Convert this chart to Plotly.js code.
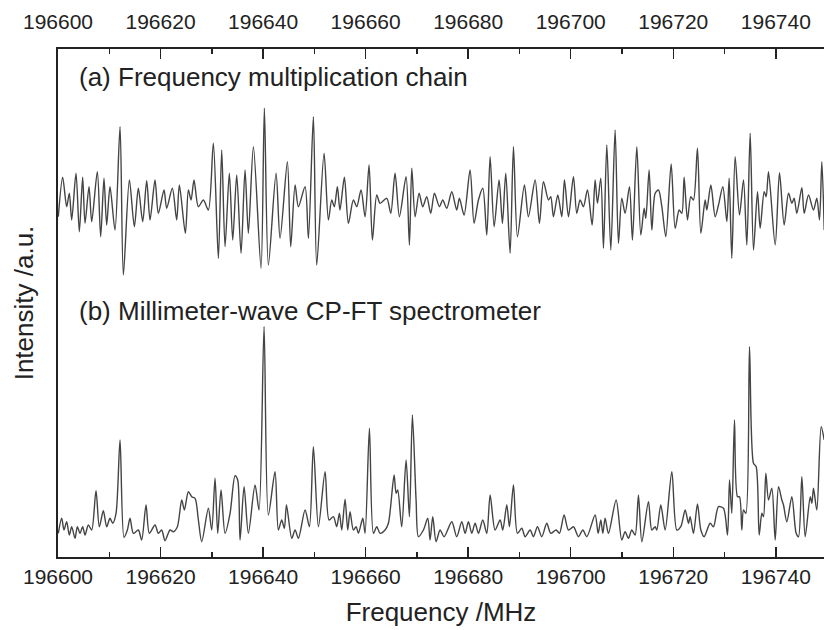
<!DOCTYPE html>
<html>
<head>
<meta charset="utf-8">
<script src="https://cdn.plot.ly/plotly-3.0.1.min.js"></script>
<style>html,body{margin:0;padding:0;background:#fff;overflow:hidden;}#chart{width:824px;height:630px;}</style>
</head>
<body>
<div id="chart"></div>
<script>
// Frequencies are given in MHz above baseFreq
const baseFreq = 196600;

// (a) Frequency multiplication chain: frequency offsets (MHz) and intensities (a.u.)
const freqA = [0.06,0.91,1.69,2.21,2.67,3.51,4.16,4.81,5.27,6.05,6.57,7.67,8.32,8.97,9.49,10.14,11.12,12.10,12.75,13.92,14.89,15.67,16.52,17.30,17.95,18.92,19.57,20.68,21.20,22.30,23.15,23.67,24.84,25.43,25.95,26.53,27.38,28.35,29.33,30.30,31.28,31.93,32.58,33.42,34.08,34.86,35.70,36.48,37.13,38.11,39.60,40.25,41.03,42.53,43.31,44.74,45.39,46.24,46.89,48.19,48.84,49.81,50.46,51.89,52.74,53.39,53.90,54.49,54.99,55.86,56.64,57.61,58.27,59.11,59.89,60.67,61.32,62.17,62.82,64.12,64.90,65.74,66.59,67.89,68.54,69.00,69.65,70.43,71.14,71.92,72.70,73.42,74.39,75.04,75.82,76.80,77.77,78.29,79.20,80.37,81.15,82.00,82.85,83.63,84.28,85.06,86.03,86.68,87.33,88.18,88.83,89.61,90.97,91.75,93.06,93.90,94.68,95.66,96.11,96.63,97.48,98.26,98.78,99.56,100.53,101.18,101.83,102.48,103.27,104.18,104.76,105.22,105.87,106.39,107.04,107.82,108.66,109.31,109.96,110.61,111.46,112.04,112.89,113.67,114.32,114.65,115.29,115.82,116.47,117.12,117.77,118.55,119.59,120.37,121.15,121.67,122.12,122.77,123.42,123.94,124.72,125.38,126.22,126.55,127.33,128.17,128.82,129.67,130.45,130.90,131.42,132.07,132.92,133.70,134.35,135.00,135.65,136.43,136.95,137.73,138.12,138.58,139.88,140.72,141.63,142.48,143.13,143.58,144.10,145.08,145.53,146.38,147.35,148.00,148.52,148.98,149.44];
const intensityA = [-13.7,25.7,-3.7,9.7,-17,29.7,-28.7,25.7,-20.3,16.3,-18.7,31.3,-33.7,24.7,-22,16.3,-27,76.3,-72,23,-23.7,14.7,-18.7,22.3,-17,23,-10.3,13,-5.3,14.7,-17,18,-30.3,13,3,23,-3.7,3,-7,59.7,-55.3,53,-43.7,29.7,-37,28,-50.3,33,-30.3,56.3,-65.3,94.7,-62,29.7,-35.3,41.3,-43.7,18,-3.7,16.3,-35.3,86.3,-62,49.7,-17,3,-3.7,16.3,-7,25.7,-20.3,3,-3.7,13,-13.7,38,-37,8,-0.3,4.7,-10.3,29.7,-13.7,26.3,-42,34.7,-13.7,9.7,-3.7,6.3,-10.3,9.7,-3.7,3,-5.3,11.3,-7,4.7,-12,33,-20.3,3,14.7,-32,46.3,-23.7,23,-20.3,29.7,-50.3,56.3,-33.7,18,-13.7,23,-20.3,21.3,3,6.3,-13.7,8,-13.7,23,-13.7,26.3,-10.3,3,-3.7,13,-22,23,-0.3,24.7,-45.3,58,-47,73,-40.3,4.7,-10.3,16.3,-37,56.3,-32,-5.3,-15.3,33,-27,9.7,13,-3.7,-33.7,39,-25.3,-7,-10.3,25.7,-17,6.3,3,54.7,-30.3,3,-7,18,-13.7,-2,16.3,-18.7,24.7,-55.3,46.3,-12,23,-42,69.7,-47,11.3,-25.3,11.3,6.3,31.3,-42,30.3,-22,9.7,-0.3,4.7,-10.3,15.3,-10.3,8,-7,4.7,-17,41.3,-27];

// (b) Millimeter-wave CP-FT spectrometer: frequency offsets (MHz) and intensities (a.u.)
const freqB = [0.06,0.72,1.17,1.69,2.21,2.67,3.32,3.77,4.29,4.81,5.27,5.92,6.57,7.41,8.06,8.84,9.49,10.14,10.67,11.32,12.10,12.88,13.53,14.05,14.70,15.67,16.32,17.17,17.82,18.92,19.57,20.22,20.87,21.85,22.50,23.28,24.13,24.65,25.43,26.08,26.73,27.38,28.03,29.33,29.98,30.63,31.15,31.80,32.58,33.56,34.53,35.05,35.51,36.29,37.13,38.43,39.21,40.19,41.03,42.33,42.98,43.63,44.15,44.56,45.59,46.24,46.89,48.19,49.03,49.81,50.79,52.09,52.87,53.71,54.36,54.88,55.34,55.99,56.51,56.96,57.61,58.14,58.59,59.44,59.89,60.74,61.52,62.17,62.82,63.79,64.44,65.55,65.94,66.26,67.04,67.89,68.54,69.12,69.84,70.30,71.27,72.12,72.57,73.09,73.74,74.52,75.30,76.80,77.77,78.75,79.40,80.05,80.70,81.35,82.00,82.85,83.63,84.28,85.25,86.23,86.75,87.53,88.05,88.83,89.61,90.45,91.11,92.08,92.73,93.51,94.36,95.33,96.11,97.15,97.80,98.71,99.56,100.53,101.51,102.36,103.14,104.76,105.35,105.87,106.26,106.71,107.36,108.86,109.96,110.61,111.26,111.91,112.56,113.21,113.87,115.16,115.82,116.47,116.79,117.57,118.42,119.72,120.69,121.47,122.32,122.97,123.29,123.94,124.72,125.38,126.02,127.19,127.84,128.82,129.80,130.58,130.97,131.42,131.94,132.53,132.92,133.37,133.70,134.16,134.87,135.65,136.17,136.76,137.28,137.60,138.06,138.58,139.23,139.88,140.53,141.18,141.50,142.15,143.13,143.97,144.43,145.08,145.73,146.71,147.03,147.35,148.00,148.85,149.44];
const intensityB = [-3.3,11.7,0,8.3,-5,3.3,-8.3,3.3,-3.3,3.3,-5,5,0,39.3,3.3,19.3,3.3,11.7,6.7,16.7,90,-7.3,0,11.7,-3.3,0,-10,25,-3.3,5,-3.3,0,-10.7,0,-1.7,3.3,30,20,38.3,33.3,31.7,10,-11.7,21.7,0,51.7,-3.3,40,-3.3,16.7,54.3,50,-10,43.3,-3.3,45,20,203.3,15,58.3,0,10,1.7,25,-8.3,0,-8.3,20,3.3,83.3,3.3,58.3,10,13.3,3.3,16.7,0,30.7,0,18.3,0,3.3,-3.3,11.7,-3.3,101.7,-3.3,3.3,-3.3,0,6.7,55,36.7,40,3.3,70,13.3,115,30,-6.7,0,11.7,-10,13.3,-11.7,0,-6.7,8.3,-6.7,8.3,-3.3,8.3,-3.3,6.7,-3.3,10,-3.3,35,0,10,0,25,3.3,45,-3.3,1.7,-6.7,0,-6.7,3.3,-6.7,6.7,-3.3,0,-3.3,15,0,3.3,-6.7,0,-6.7,15,-3.3,10,-3.3,11.7,-3.3,30,-10,-1.7,-8.3,0,-5,35,-11.7,28.3,0,3.3,0,25,0,58.3,0,3.3,20,6.7,13.3,-3.3,26,0,-6.7,6.7,3.3,23.3,21.7,-5,50,16.7,110,33.3,33.3,0,20,16.7,183.3,66.7,63.3,-5,16.7,13.3,56.7,30,41.7,-10,43.3,30,25,8.3,33.3,-3.3,-6.7,53.3,-6.7,33.3,26.7,41.7,20,103.3,90];

const tickValues = [196600,196620,196640,196660,196680,196700,196720,196740];
const panelLabels = ['(a) Frequency multiplication chain', '(b) Millimeter-wave CP-FT spectrometer'];

// vertical stacking offsets (display only)
const offsetA = 354, offsetB = 27;

const lineStyle = {color: '#444444', width: 1.4, shape: 'spline', smoothing: 0.8};
const traces = [
  {x: freqA.map(d => baseFreq + d), y: intensityA.map(v => v + offsetA), mode: 'lines', line: lineStyle, hoverinfo: 'skip', showlegend: false},
  {x: freqB.map(d => baseFreq + d), y: intensityB.map(v => v + offsetB), mode: 'lines', line: lineStyle, hoverinfo: 'skip', showlegend: false},
  {x: [196600], y: [0], xaxis: 'x2', mode: 'markers', marker: {opacity: 0}, hoverinfo: 'skip', showlegend: false}
];

const font = 'Liberation Sans, Arial, sans-serif';
const xRange = [196600, 196749.4];

const layout = {
  width: 824, height: 630,
  margin: {l: 58, r: 0, t: 49, b: 73},
  paper_bgcolor: '#fff', plot_bgcolor: '#fff',
  font: {family: font, color: '#222'},
  xaxis: {
    range: xRange, tickvals: tickValues, tickformat: 'd', side: 'bottom',
    ticks: 'inside', ticklen: 10, tickwidth: 1.5, tickcolor: '#222',
    showline: true, linewidth: 2, linecolor: '#222', mirror: 'ticks',
    showgrid: false, zeroline: false,
    tickfont: {family: font, size: 21, color: '#222'},
    minor: {dtick: 10, tick0: 196600, ticks: 'inside', ticklen: 5, tickwidth: 1.5, tickcolor: '#222', showgrid: false},
    title: {text: 'Frequency /MHz', font: {family: font, size: 26, color: '#222'}, standoff: 16}
  },
  // top axis carries only the labels; invisible outside ticks lift them a little
  xaxis2: {
    range: xRange, tickvals: tickValues, tickformat: 'd', side: 'top', overlaying: 'x', anchor: 'y',
    ticks: 'outside', ticklen: 11, tickwidth: 1, tickcolor: 'rgba(255,255,255,0)', showline: false,
    showgrid: false, zeroline: false,
    tickfont: {family: font, size: 21, color: '#222'}
  },
  yaxis: {
    range: [0, 508], showline: true, linewidth: 2, linecolor: '#222', ticks: '', showticklabels: false,
    showgrid: false, zeroline: false, mirror: false,
    title: {text: 'Intensity /a.u.', font: {family: font, size: 26, color: '#222'}, standoff: 15}
  },
  annotations: [
    {text: panelLabels[0], xref: 'paper', yref: 'y', x: 0.025, y: 480, xanchor: 'left', yanchor: 'middle', showarrow: false, font: {family: font, size: 26, color: '#222'}},
    {text: panelLabels[1], xref: 'paper', yref: 'y', x: 0.025, y: 246, xanchor: 'left', yanchor: 'middle', showarrow: false, font: {family: font, size: 26, color: '#222'}}
  ]
};

Plotly.newPlot('chart', traces, layout, {displayModeBar: false, staticPlot: true});
</script>
</body>
</html>
